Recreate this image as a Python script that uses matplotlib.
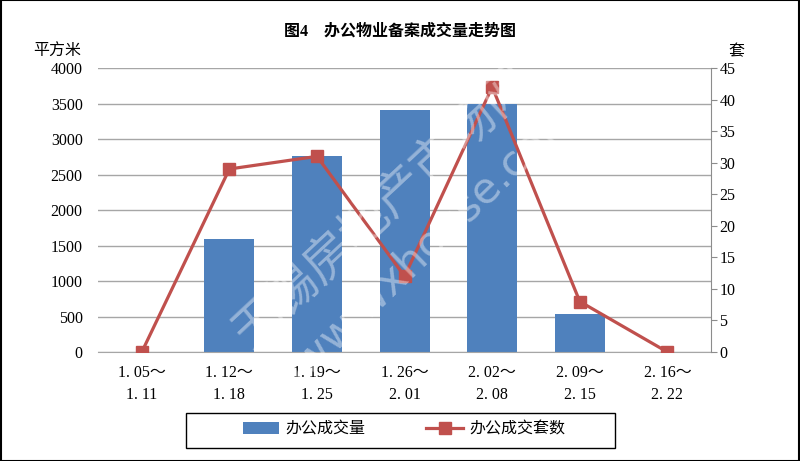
import matplotlib
matplotlib.use("Agg")
import matplotlib.pyplot as plt
from matplotlib.patches import Patch
from matplotlib.lines import Line2D
import numpy as np

categories = ["1. 05～\n1. 11", "1. 12～\n1. 18", "1. 19～\n1. 25", "1. 26～\n2. 01",
              "2. 02～\n2. 08", "2. 09～\n2. 15", "2. 16～\n2. 22"]
area = [0, 1590, 2760, 3410, 3500, 535, 0]
units = [0, 29, 31, 12, 42, 8, 0]
left_ticks = [0, 500, 1000, 1500, 2000, 2500, 3000, 3500, 4000]
right_ticks = [0, 5, 10, 15, 20, 25, 30, 35, 40, 45]

FONT = ["Liberation Serif", "Noto Sans CJK SC", "DejaVu Sans"]
plt.rcParams["font.family"] = FONT

BLUE = "#4F81BD"
RED = "#C0504D"
FS = 11.5

fig = plt.figure(figsize=(8, 4.61), dpi=100)
ax = fig.add_axes([0.1225, 0.2364, 0.889 - 0.1225, 0.8525 - 0.2364])
x = np.arange(len(categories))

ax.bar(x, area, width=0.57, color=BLUE, zorder=2)
ax.set_xlim(-0.5, len(categories) - 0.5)
ax.set_ylim(0, 4000)
ax.set_yticks(left_ticks)
ax.yaxis.grid(True, color="#A6A6A6", linewidth=1.0, zorder=0)
ax.set_axisbelow(True)
for s in ["left", "top", "right"]:
    ax.spines[s].set_visible(False)
ax.spines["bottom"].set_color("#A6A6A6")
ax.tick_params(axis="y", length=0, pad=11, labelsize=FS)
ax.tick_params(axis="x", length=0, pad=9, labelsize=FS)
ax.set_xticks(x)
ax.set_xticklabels(categories, linespacing=1.55)

ax2 = ax.twinx()
ax2.plot(x, units, color=RED, linewidth=2.3, marker="s", markersize=8.5, zorder=3)
ax2.set_ylim(0, 45)
ax2.set_yticks(right_ticks)
for s in ["left", "top", "bottom"]:
    ax2.spines[s].set_visible(False)
ax2.spines["right"].set_color("#8C8C8C")
ax2.tick_params(axis="y", length=4, color="#8C8C8C", pad=2, labelsize=FS)

fig.text(0.5, 0.932, "图4　办公物业备案成交量走势图", ha="center", va="center",
         fontsize=11.5, fontweight="bold")
fig.text(0.072, 0.887, "平方米", ha="center", va="center", fontsize=FS)
fig.text(0.921, 0.887, "套", ha="center", va="center", fontsize=FS)

# watermark
fig.text(0.479, 0.549, "无锡房地产市场网", rotation=43, ha="center", va="center",
         fontsize=35, color="white", alpha=0.4, zorder=10, fontweight="light")
fig.text(0.529, 0.458, "www.wxhouse.com", rotation=44, ha="center", va="center",
         fontsize=31, color="white", alpha=0.4, zorder=10, family=["DejaVu Sans"])

handles = [Patch(facecolor=BLUE, edgecolor="none"),
           Line2D([0], [0], color=RED, linewidth=2.3, marker="s", markersize=8.5)]
leg = fig.legend(handles, ["办公成交量", "办公成交套数"], loc="center",
                 bbox_to_anchor=(0.505, 0.068), ncol=2, frameon=False,
                 fontsize=FS, handlelength=2.3, columnspacing=3.8,
                 handletextpad=0.4, borderaxespad=0)

legbox = plt.Rectangle((186 / 800, 1 - 448 / 461), (615 - 186) / 800, 35 / 461,
                       transform=fig.transFigure, fill=False, edgecolor="black",
                       linewidth=1.0)
fig.patches.append(legbox)

border = plt.Rectangle((0.001, 0.001), 0.998, 0.998, transform=fig.transFigure,
                       fill=False, edgecolor="black", linewidth=1.5)
fig.patches.append(border)

fig.savefig("out.png", dpi=100)
